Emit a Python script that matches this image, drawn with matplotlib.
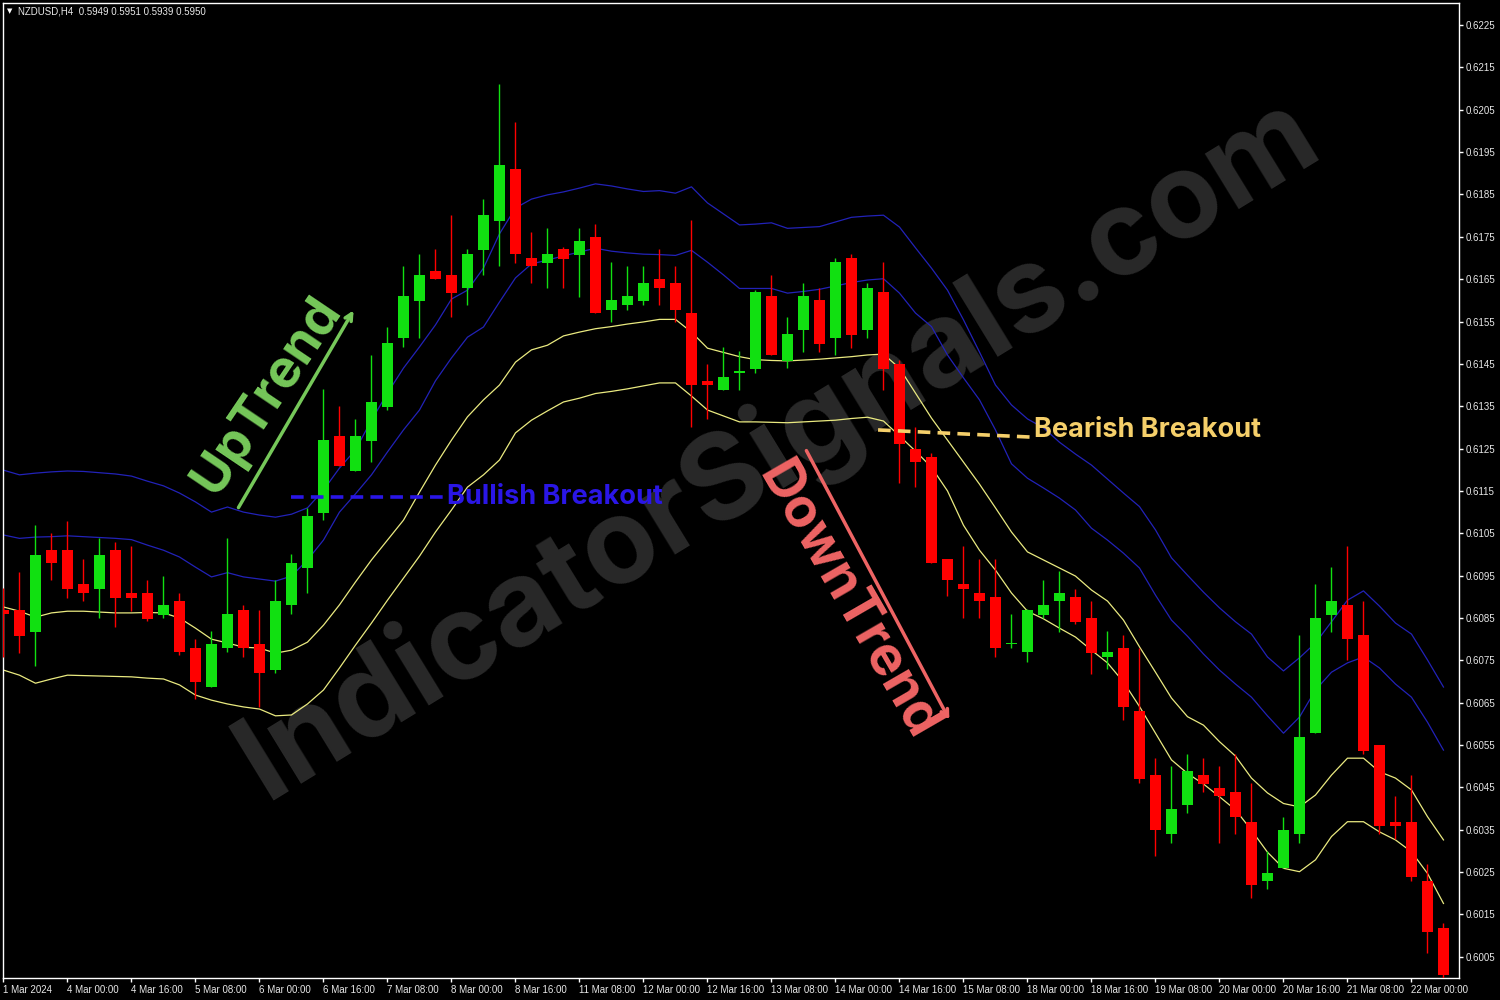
import numpy as np
import matplotlib.pyplot as plt

# NZDUSD H4 candles, 1 Mar 2024 08:00 .. 22 Mar 2024 08:00
opens = [0.6087, 0.6087, 0.60818, 0.61011, 0.61011, 0.60931, 0.60918, 0.61011, 0.60909, 0.60909,
         0.60858, 0.60891, 0.6078, 0.60688, 0.60778, 0.60869, 0.60789, 0.60728, 0.6088, 0.60969,
         0.61099, 0.6128, 0.61198, 0.61269, 0.61349, 0.61511, 0.61599, 0.61669, 0.6166, 0.61628,
         0.61719, 0.61788, 0.6191, 0.61699, 0.61689, 0.61721, 0.61707, 0.6175, 0.61578, 0.61589,
         0.61599, 0.61651, 0.61641, 0.6157, 0.6141, 0.61389, 0.61428, 0.61438, 0.6161, 0.61457,
         0.61529, 0.61601, 0.6151, 0.617, 0.61529, 0.6162, 0.6145, 0.61249, 0.6123, 0.60989,
         0.60931, 0.60909, 0.60899, 0.60788, 0.60769, 0.60858, 0.60889, 0.60899, 0.60851, 0.60758,
         0.6078, 0.60631, 0.6048, 0.60339, 0.60408, 0.6048, 0.60449, 0.60439, 0.60368, 0.60228,
         0.60259, 0.60339, 0.60578, 0.60858, 0.6088, 0.6081, 0.6055, 0.60368, 0.60368, 0.60229,
         0.60119]
highs = [0.60921, 0.60959, 0.6107, 0.61051, 0.61079, 0.6099, 0.61039, 0.6103, 0.6102, 0.6094,
         0.6095, 0.60909, 0.608, 0.6082, 0.61039, 0.60881, 0.60869, 0.60939, 0.61, 0.61109,
         0.6139, 0.61351, 0.6132, 0.61471, 0.61538, 0.6168, 0.61709, 0.61721, 0.61801, 0.61721,
         0.61839, 0.62111, 0.62021, 0.61761, 0.6177, 0.61726, 0.61771, 0.6178, 0.61691, 0.61681,
         0.61681, 0.61721, 0.61681, 0.6179, 0.6145, 0.6149, 0.61481, 0.61625, 0.61659, 0.61561,
         0.6164, 0.61629, 0.617, 0.61709, 0.61642, 0.61691, 0.61459, 0.61301, 0.61239, 0.60989,
         0.6102, 0.60989, 0.60989, 0.60859, 0.60871, 0.60939, 0.6096, 0.60918, 0.60891, 0.6082,
         0.6081, 0.6078, 0.6052, 0.605, 0.6053, 0.6052, 0.605, 0.6053, 0.6046, 0.603,
         0.60381, 0.6081, 0.60931, 0.60971, 0.6102, 0.60891, 0.6055, 0.6043, 0.60479, 0.6027,
         0.6013]
lows = [0.60758, 0.60768, 0.60737, 0.60939, 0.60898, 0.60889, 0.6085, 0.60828, 0.60867, 0.60843,
        0.6085, 0.60763, 0.60659, 0.60688, 0.60769, 0.60759, 0.6064, 0.6072, 0.60859, 0.60909,
        0.61082, 0.61208, 0.61198, 0.61219, 0.61341, 0.61489, 0.61511, 0.6165, 0.6156, 0.6159,
        0.61659, 0.6168, 0.61689, 0.6164, 0.61628, 0.61629, 0.61609, 0.61569, 0.6155, 0.61578,
        0.6159, 0.6159, 0.6155, 0.613, 0.6132, 0.61389, 0.61389, 0.61429, 0.6147, 0.6144,
        0.61479, 0.61479, 0.6147, 0.61488, 0.6151, 0.61389, 0.61168, 0.61159, 0.6098, 0.60901,
        0.6085, 0.6085, 0.60759, 0.60779, 0.60747, 0.6085, 0.60818, 0.60835, 0.60718, 0.6073,
        0.60608, 0.6046, 0.60287, 0.60319, 0.60389, 0.60439, 0.60319, 0.6034, 0.60188, 0.60209,
        0.60259, 0.60319, 0.60578, 0.60818, 0.6075, 0.60528, 0.6034, 0.60328, 0.60228, 0.60059,
        0.6000]
closes = [0.6086, 0.60808, 0.60999, 0.60979, 0.60918, 0.60908, 0.60999, 0.60898, 0.60898, 0.60848,
          0.60881, 0.60769, 0.60698, 0.60789, 0.60859, 0.60778, 0.6072, 0.60891, 0.6098, 0.61091,
          0.61271, 0.61208, 0.6128, 0.6136, 0.61499, 0.6161, 0.61659, 0.6165, 0.61618, 0.6171,
          0.61801, 0.61919, 0.61709, 0.6168, 0.6171, 0.61698, 0.6174, 0.61569, 0.61601, 0.6161,
          0.61642, 0.61628, 0.61578, 0.61399, 0.61399, 0.61419, 0.61432, 0.6162, 0.6147, 0.6152,
          0.6161, 0.61497, 0.61691, 0.61518, 0.61629, 0.61438, 0.6126, 0.61219, 0.6098, 0.60939,
          0.60918, 0.60889, 0.60779, 0.6079, 0.60869, 0.6088, 0.6091, 0.6084, 0.60768, 0.6077,
          0.60639, 0.60469, 0.60349, 0.604, 0.60489, 0.60459, 0.60429, 0.60379, 0.60219, 0.60248,
          0.6035, 0.60569, 0.60851, 0.60891, 0.608, 0.60537, 0.60358, 0.60358, 0.60239, 0.60108,
          0.60008]

# channel lines (two blue above, two yellow below)
blue_outer = [0.61199, 0.61188, 0.61192, 0.61195, 0.61197, 0.61196, 0.61193, 0.61190, 0.61185, 0.61173,
              0.61162, 0.61145, 0.61124, 0.61100, 0.61112, 0.61100, 0.61093, 0.61088, 0.61095, 0.61110,
              0.61152, 0.61204, 0.61247, 0.61317, 0.61381, 0.61440, 0.61490, 0.61542, 0.61603, 0.61624,
              0.61676, 0.61757, 0.61818, 0.61839, 0.61849, 0.61856, 0.61865, 0.61875, 0.61870, 0.61863,
              0.61857, 0.61859, 0.61853, 0.61868, 0.61830, 0.61804, 0.61778, 0.61780, 0.61783, 0.61770,
              0.61772, 0.61774, 0.61785, 0.61796, 0.61799, 0.61801, 0.61773, 0.61724, 0.61676, 0.61624,
              0.61554, 0.61478, 0.61400, 0.61353, 0.61320, 0.61299, 0.61265, 0.61237, 0.61211, 0.61178,
              0.61145, 0.61113, 0.61058, 0.60992, 0.60951, 0.60911, 0.60874, 0.60841, 0.60812, 0.60758,
              0.60725, 0.60756, 0.60791, 0.60841, 0.60892, 0.60914, 0.60878, 0.60838, 0.60812, 0.60751,
              0.60687]
blue_inner = [0.61046, 0.61038, 0.61041, 0.61042, 0.61044, 0.61042, 0.61040, 0.61038, 0.61035, 0.61022,
              0.61010, 0.60994, 0.60970, 0.60947, 0.60957, 0.60947, 0.60942, 0.60937, 0.60949, 0.60987,
              0.61034, 0.61100, 0.61143, 0.61188, 0.61242, 0.61294, 0.61341, 0.61410, 0.61464, 0.61513,
              0.61537, 0.61596, 0.61653, 0.61686, 0.61695, 0.61705, 0.61714, 0.61723, 0.61716, 0.61712,
              0.61709, 0.61708, 0.61706, 0.61718, 0.61690, 0.61660, 0.61628, 0.61628, 0.61628, 0.61617,
              0.61621, 0.61626, 0.61634, 0.61642, 0.61648, 0.61651, 0.61617, 0.61570, 0.61538, 0.61471,
              0.61417, 0.61365, 0.61294, 0.61214, 0.61180, 0.61157, 0.61133, 0.61105, 0.61062, 0.61034,
              0.61003, 0.60968, 0.60904, 0.60845, 0.60807, 0.60765, 0.60727, 0.60694, 0.60663, 0.60619,
              0.60578, 0.60616, 0.60680, 0.60722, 0.60744, 0.60758, 0.60732, 0.60694, 0.60663, 0.60604,
              0.60538]
yellow_inner = [0.60876, 0.60866, 0.60852, 0.60862, 0.60866, 0.60866, 0.60864, 0.60862, 0.60862, 0.60863,
                0.60862, 0.60850, 0.60826, 0.60800, 0.60791, 0.60781, 0.60779, 0.60767, 0.60774, 0.60793,
                0.60833, 0.60881, 0.60935, 0.60987, 0.61034, 0.61081, 0.61147, 0.61211, 0.61270, 0.61325,
                0.61365, 0.61400, 0.61454, 0.61483, 0.61494, 0.61516, 0.61525, 0.61533, 0.61538, 0.61544,
                0.61549, 0.61555, 0.61555, 0.61525, 0.61487, 0.61477, 0.61467, 0.61460, 0.61458, 0.61457,
                0.61459, 0.61461, 0.61464, 0.61467, 0.61471, 0.61473, 0.61440, 0.61381, 0.61322, 0.61270,
                0.61218, 0.61166, 0.61110, 0.61053, 0.61006, 0.60987, 0.60968, 0.60949, 0.60916, 0.60890,
                0.60845, 0.60782, 0.60722, 0.60661, 0.60617, 0.60597, 0.60558, 0.60524, 0.60472, 0.60437,
                0.60412, 0.60404, 0.60432, 0.60479, 0.60519, 0.60519, 0.60487, 0.60472, 0.60444, 0.60381,
                0.60326]
yellow_outer = [0.60727, 0.60715, 0.60696, 0.60706, 0.60715, 0.60714, 0.60713, 0.60712, 0.60711, 0.60708,
                0.60706, 0.60692, 0.60668, 0.60656, 0.60647, 0.60640, 0.60635, 0.60619, 0.60621, 0.60647,
                0.60680, 0.60732, 0.60786, 0.60838, 0.60892, 0.60944, 0.60996, 0.61053, 0.61105, 0.61159,
                0.61188, 0.61223, 0.61287, 0.61317, 0.61339, 0.61360, 0.61369, 0.61380, 0.61385, 0.61391,
                0.61398, 0.61405, 0.61405, 0.61374, 0.61341, 0.61327, 0.61313, 0.61313, 0.61312, 0.61311,
                0.61313, 0.61315, 0.61317, 0.61321, 0.61324, 0.61315, 0.61280, 0.61244, 0.61206, 0.61150,
                0.61069, 0.61010, 0.60963, 0.60909, 0.60866, 0.60848, 0.60826, 0.60805, 0.60774, 0.60744,
                0.60699, 0.60641, 0.60578, 0.60515, 0.60483, 0.60458, 0.60428, 0.60397, 0.60349, 0.60297,
                0.60259, 0.60251, 0.60279, 0.60334, 0.60369, 0.60369, 0.60345, 0.60326, 0.60298, 0.60247,
                0.60176]

date_labels = ['1 Mar 2024', '4 Mar 00:00', '4 Mar 16:00', '5 Mar 08:00', '6 Mar 00:00', '6 Mar 16:00',
               '7 Mar 08:00', '8 Mar 00:00', '8 Mar 16:00', '11 Mar 08:00', '12 Mar 00:00', '12 Mar 16:00',
               '13 Mar 08:00', '14 Mar 00:00', '14 Mar 16:00', '15 Mar 08:00', '18 Mar 00:00', '18 Mar 16:00',
               '19 Mar 08:00', '20 Mar 00:00', '20 Mar 16:00', '21 Mar 08:00', '22 Mar 00:00']
price_ticks = [0.6005, 0.6015, 0.6025, 0.6035, 0.6045, 0.6055, 0.6065, 0.6075, 0.6085, 0.6095, 0.6105,
               0.6115, 0.6125, 0.6135, 0.6145, 0.6155, 0.6165, 0.6175, 0.6185, 0.6195, 0.6205, 0.6215, 0.6225]

BULL = '#11e011'
BEAR = '#ff0000'
TXT_FONT = ['Inter', 'DejaVu Sans']

fig = plt.figure(figsize=(15, 10), dpi=100, facecolor='black')
ax = fig.add_axes([3 / 1500, 22 / 1000, 1456 / 1500, 975 / 1000])
ax.set_facecolor('black')

x = np.arange(len(opens))
o = np.array(opens)
c = np.array(closes)
up = c >= o
colors = np.where(up, BULL, BEAR)

# watermark under everything
ax.text(48.4, 0.61250, 'IndicatorSignals.com', color='#292929', fontsize=86, fontweight='bold',
        family=TXT_FONT, rotation=31.5, rotation_mode='anchor', ha='center', va='center', zorder=1)

# channel lines
ax.plot(x, blue_outer, color='#2222b8', lw=0.9, zorder=2)
ax.plot(x, blue_inner, color='#2222b8', lw=0.9, zorder=2)
ax.plot(x, yellow_inner, color='#eaea80', lw=0.9, zorder=2)
ax.plot(x, yellow_outer, color='#eaea80', lw=0.9, zorder=2)

# candles
ax.vlines(x, lows, highs, colors=colors, lw=1.0, zorder=3)
ax.bar(x, np.maximum(np.abs(c - o), 0.00003), bottom=np.minimum(o, c), width=0.69,
       color=colors, linewidth=0, zorder=4)

# annotations
ax.plot([17.97, 27.7], [0.61136, 0.61136], color='#2a16e6', lw=2.6, dashes=(3.5, 2), zorder=5)
ax.text(27.75, 0.61136, 'Bullish Breakout', color='#2a16e6', fontsize=19.5, fontweight='bold',
        family=TXT_FONT, ha='left', va='center', zorder=5)

ax.plot([54.66, 64.28], [0.61294, 0.61277], color='#f5cf6a', lw=2.6, dashes=(3.5, 2), zorder=5)
ax.text(64.4, 0.61294, 'Bearish Breakout', color='#f5cf6a', fontsize=19.5, fontweight='bold',
        family=TXT_FONT, ha='left', va='center', zorder=5)

ax.text(16.5, 0.61376, 'UpTrend', color='#76c85a', fontsize=38, fontweight='bold',
        family=TXT_FONT, rotation=56, rotation_mode='anchor', ha='center', va='center', zorder=5)
ax.annotate('', xy=(21.97, 0.61582), xytext=(14.6, 0.61105),
            arrowprops=dict(arrowstyle='->,head_length=0.5,head_width=0.25', color='#76c85a', lw=2.5),
            zorder=5)

ax.text(52.8, 0.60890, 'DownTrend', color='#ee6464', fontsize=39, fontweight='bold',
        family=TXT_FONT, rotation=-60, rotation_mode='anchor', ha='center', va='center', zorder=5)
ax.annotate('', xy=(59.2, 0.60604), xytext=(50.1, 0.61251),
            arrowprops=dict(arrowstyle='->,head_length=0.5,head_width=0.25', color='#ee6464', lw=2.5),
            zorder=5)

ax.set_xlim(-0.03, 90.97)
ax.set_ylim(0.60000, 0.62302)

# axes like the terminal
for s in ax.spines.values():
    s.set_color('white')
    s.set_linewidth(1.0)
ax.yaxis.tick_right()
ax.set_yticks(price_ticks)
ax.set_yticklabels(['%.4f' % p for p in price_ticks])
ax.set_xticks(np.arange(0, 89, 4))
ax.set_xticklabels(date_labels)
ax.tick_params(axis='both', colors='white', labelcolor='#e8e8e8', length=3, width=1, direction='out',
               labelsize=7, pad=2)
for lab in ax.get_xticklabels():
    lab.set_ha('left')
    lab.set_family('Liberation Sans')
for lab in ax.get_yticklabels():
    lab.set_family('Liberation Sans')

fig.text(7 / 1500, 1 - 11 / 1000, '\u25bc', color='white', fontsize=5, va='center', ha='left')
fig.text(18 / 1500, 1 - 11 / 1000, 'NZDUSD,H4  0.5949 0.5951 0.5939 0.5950', color='#e8e8e8',
         fontsize=7, family='Liberation Sans', va='center', ha='left')

plt.savefig('out.png', dpi=100, facecolor='black')
